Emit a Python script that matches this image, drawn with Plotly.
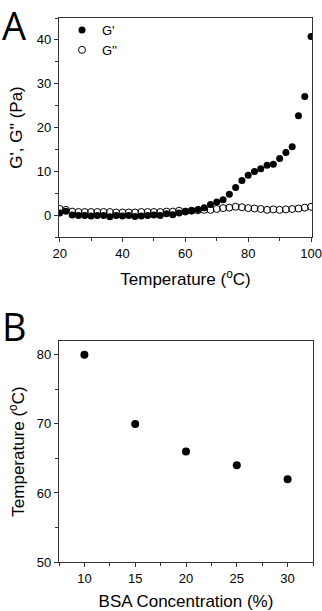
import plotly.graph_objects as go

# Panel A data
temp_a = [20, 22, 24, 26, 28, 30, 32, 34, 36, 38, 40, 42, 44, 46, 48, 50, 52, 54, 56, 58,
          60, 62, 64, 66, 68, 70, 72, 74, 76, 78, 80, 82, 84, 86, 88, 90, 92, 94, 96, 98, 100]
g_storage = [0.5, 0.9, 0.0, -0.1, -0.1, -0.2, -0.1, -0.1, -0.4, -0.1, -0.2, -0.1, -0.3, -0.2, -0.1,
             0.0, -0.1, 0.3, 0.1, 0.5, 0.8, 1.0, 1.3, 1.7, 2.4, 3.0, 3.5, 4.75, 6.3, 7.9,
             9.1, 9.95, 10.6, 11.4, 11.6, 12.9, 14.3, 15.6, 22.7, 27.1, 40.8]
g_loss = [1.4, 1.2, 0.8, 0.7, 0.7, 0.7, 0.7, 0.7, 0.7, 0.6, 0.6, 0.6, 0.6, 0.7, 0.7,
          0.7, 0.7, 0.8, 0.8, 1.0, 0.8, 1.0, 1.1, 1.2, 1.2, 1.4, 1.6, 1.7, 1.9, 1.8,
          1.6, 1.5, 1.4, 1.2, 1.3, 1.2, 1.3, 1.4, 1.5, 1.7, 1.9]

# Panel B data
bsa_conc = [10, 15, 20, 25, 30]
gel_temp = [80, 70, 66, 64, 62]

W, H = 322, 611
axis_col = "#333333"
font_fam = "Liberation Sans, Arial, sans-serif"

fig = go.Figure()
fig.add_trace(go.Scatter(x=temp_a, y=g_storage, mode="markers", name="G'",
                         marker=dict(symbol="circle", size=7, color="black"),
                         xaxis="x", yaxis="y"))
fig.add_trace(go.Scatter(x=temp_a, y=g_loss, mode="markers", name="G''",
                         marker=dict(symbol="circle-open", size=7, color="black",
                                     line=dict(width=1)),
                         xaxis="x", yaxis="y"))
fig.add_trace(go.Scatter(x=bsa_conc, y=gel_temp, mode="markers", showlegend=False,
                         marker=dict(symbol="circle", size=8, color="black"),
                         xaxis="x2", yaxis="y2"))

def ax(**kw):
    base = dict(showline=True, linecolor=axis_col, linewidth=1.2, mirror=True,
                showgrid=False, zeroline=False, ticks="outside", ticklen=4,
                tickcolor=axis_col, tickwidth=1.1, automargin=False,
                tickfont=dict(family=font_fam, size=13, color="black"),
                minor=dict(ticks="outside", ticklen=2.5, tickcolor=axis_col, tickwidth=1.1,
                           showgrid=False),
                title_font=dict(family=font_fam, size=17, color="black"))
    base.update(kw)
    return base

fig.update_layout(
    width=W, height=H,
    margin=dict(l=0, r=0, t=0, b=0, autoexpand=False),
    paper_bgcolor="white", plot_bgcolor="white",
    xaxis=ax(domain=[59 / W, 312 / W], range=[19.8, 100.3], tick0=20, dtick=20,
             minor_dtick=10, anchor="y",
             title=dict(text="Temperature (<sup>o</sup>C)", standoff=13)),
    yaxis=ax(domain=[(H - 237) / H, (H - 18) / H], range=[-5, 45], tick0=0, dtick=10,
             minor_dtick=5, anchor="x",
             title=dict(text="G', G'' (Pa)", standoff=9)),
    xaxis2=ax(domain=[59 / W, 313 / W], range=[7.5, 32.5], tick0=10, dtick=5,
              minor_dtick=2.5, anchor="y2",
              title=dict(text="BSA Concentration (%)", standoff=11)),
    yaxis2=ax(domain=[(H - 562) / H, (H - 341) / H], range=[50, 82], tick0=50, dtick=10,
              minor_dtick=5, anchor="x2",
              title=dict(text="Temperature (<sup>o</sup>C)", standoff=7)),
    legend=dict(x=62 / W, y=(H - 15) / H, xanchor="left", yanchor="top",
                bgcolor="rgba(0,0,0,0)", font=dict(family=font_fam, size=13, color="black"),
                tracegroupgap=0, itemwidth=30),
    showlegend=True,
)

fig.add_annotation(text="A", x=0, y=1.005, xref="paper", yref="paper",
                   xanchor="left", yanchor="top", showarrow=False,
                   font=dict(family="Open Sans, sans-serif", size=38, color="black"))
fig.add_annotation(text="B", x=0, y=(H - 298) / H, xref="paper", yref="paper",
                   xanchor="left", yanchor="top", showarrow=False,
                   font=dict(family="Open Sans, sans-serif", size=38, color="black"))

fig.write_html("out.html", config={"displayModeBar": False},
               post_script="document.body.style.margin='0';document.body.style.padding='0';")
